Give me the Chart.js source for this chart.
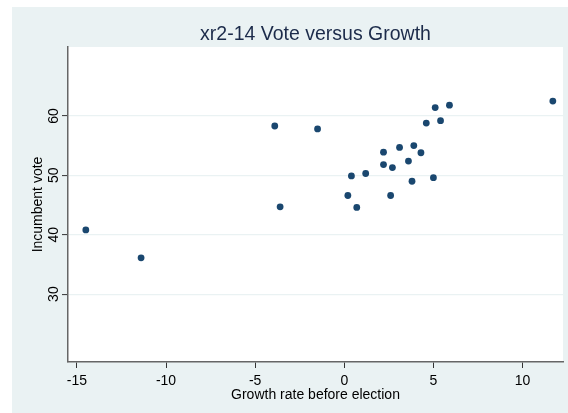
<!DOCTYPE html>
<html><head><meta charset="utf-8">
<script src="https://cdn.jsdelivr.net/npm/chart.js@4"></script>
<style>html,body{margin:0;padding:0;background:#fff;}#wrap{width:568px;height:413px;position:relative}</style>
</head><body><div id="wrap"><canvas id="c" width="568" height="413"></canvas></div>
<script>
const growth = [-14.5, -11.4, -3.9, -3.6, -1.5, 0.4, 0.2, 0.7, 11.7, 5.1, 5.9, 4.6, 5.4, 2.2, 3.1, 3.9, 4.3, 2.2, 2.7, 3.6, 1.2, 3.8, 5.0, 2.6];
const vote   = [40.8, 36.1, 58.3, 44.7, 57.8, 49.9, 46.6, 44.6, 62.5, 61.4, 61.8, 58.8, 59.2, 53.9, 54.7, 55.0, 53.8, 51.8, 51.3, 52.4, 50.3, 49.0, 49.6, 46.6];
const xTicks = [-15, -10, -5, 0, 5, 10];
const yTicks = [30, 40, 50, 60];
const titleText = 'xr2-14 Vote versus Growth';
const xTitle = 'Growth rate before election';
const yTitle = 'Incumbent vote';

const FONT = '"Liberation Sans", Arial, sans-serif';
const BG = '#eaf2f3';

const bgPlugin = {
  id: 'bg',
  beforeDraw(chart) {
    const ctx = chart.ctx, a = chart.chartArea;
    ctx.save();
    ctx.fillStyle = '#ffffff';
    ctx.fillRect(0, 0, chart.width, chart.height);
    ctx.fillStyle = BG;
    ctx.fillRect(12, 7, chart.width - 12, chart.height - 7);
    ctx.fillStyle = '#ffffff';
    ctx.fillRect(a.left, a.top, a.right - a.left, a.bottom - a.top);
    ctx.restore();
  },
  afterDraw(chart) {
    const ctx = chart.ctx, a = chart.chartArea;
    const xs = chart.scales.x, ys = chart.scales.y;
    ctx.save();
    // title
    ctx.fillStyle = '#1c2b4a';
    ctx.font = '19.5px ' + FONT;
    ctx.textAlign = 'center';
    ctx.textBaseline = 'alphabetic';
    ctx.fillText(titleText, (a.left + a.right) / 2, 40);
    // x tick labels
    ctx.fillStyle = '#000';
    ctx.font = '14px ' + FONT;
    xTicks.forEach(v => ctx.fillText(String(v), xs.getPixelForValue(v), 385));
    // x title
    ctx.font = '14px ' + FONT;
    ctx.fillText(xTitle, (a.left + a.right) / 2, 398.5);
    // y tick labels
    yTicks.forEach(v => {
      ctx.save();
      ctx.translate(57.5, ys.getPixelForValue(v));
      ctx.rotate(-Math.PI / 2);
      ctx.font = '14px ' + FONT;
      ctx.fillText(String(v), 0, 0);
      ctx.restore();
    });
    // y title
    ctx.save();
    ctx.translate(41.5, (a.top + a.bottom) / 2);
    ctx.rotate(-Math.PI / 2);
    ctx.font = '14px ' + FONT;
    ctx.fillText(yTitle, 0, 0);
    ctx.restore();
    ctx.restore();
  }
};

const points = growth.map((g, i) => ({ x: g, y: vote[i] }));

new Chart(document.getElementById('c'), {
  type: 'scatter',
  data: { datasets: [{ data: points, backgroundColor: '#1a476f', borderColor: '#1a476f', borderWidth: 0, pointRadius: 3.4, pointHoverRadius: 3.4 }] },
  options: {
    responsive: false,
    animation: false,
    devicePixelRatio: 1,
    layout: { padding: { top: 47, right: 5, left: 0, bottom: 0 } },
    plugins: { legend: { display: false }, tooltip: { enabled: false }, title: { display: false } },
    scales: {
      x: {
        type: 'linear', min: -15.5, max: 12.27,
        afterBuildTicks(s) { s.ticks = xTicks.map(v => ({ value: v })); },
        afterFit(s) { s.height = 51; },
        ticks: { display: false },
        grid: { drawOnChartArea: false, drawTicks: true, tickLength: 6, tickColor: '#333', tickWidth: 1 },
        border: { display: true, color: '#666', width: 1.5 }
      },
      y: {
        type: 'linear', min: 18.57, max: 71.6,
        afterBuildTicks(s) { s.ticks = yTicks.map(v => ({ value: v })); },
        afterFit(s) { s.width = 68; },
        ticks: { display: false },
        grid: { color: BG, lineWidth: 1.2, drawTicks: true, tickLength: 6, tickColor: '#333', tickWidth: 1 },
        border: { display: true, color: '#666', width: 1.5 }
      }
    }
  },
  plugins: [bgPlugin]
});
</script></body></html>
